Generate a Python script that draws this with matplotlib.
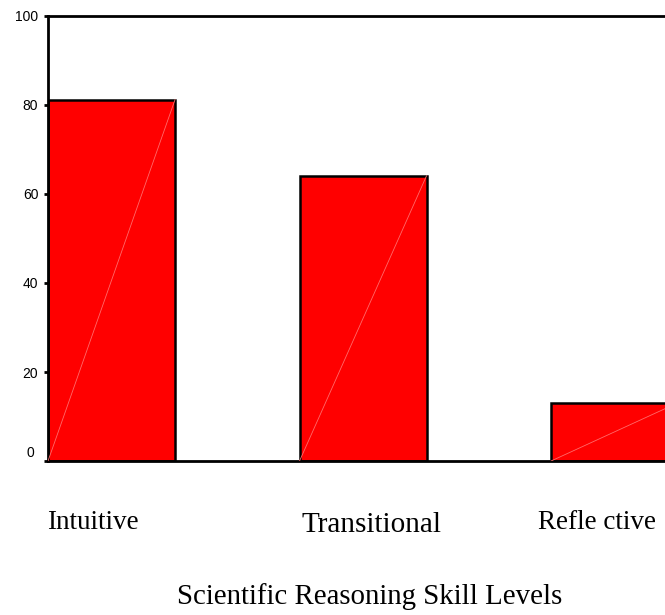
import matplotlib
matplotlib.use("Agg")
import matplotlib.pyplot as plt

categories = ["Intuitive", "Transitional", "Refle ctive"]
values = [81.2, 64.1, 13.1]
yticks = [0, 20, 40, 60, 80, 100]

xpos = [0, 1, 2]
bar_w = 0.505

fig = plt.figure(figsize=(6.65, 6.15), dpi=100)
ax = fig.add_axes([0.0722, 0.2504, 1 - 0.0722, 0.974 - 0.2504])

bars = ax.bar(xpos, values, width=bar_w, align="edge", color="#ff0000",
              edgecolor="black", linewidth=1.8, zorder=2)

# faint diagonal inside each bar, corner to corner
for x, v in zip(xpos, values):
    ax.plot([x, x + bar_w], [0, v], color="#ff6a6a", lw=0.6, zorder=3)

ax.set_xlim(0, 2.453)
ax.set_ylim(0, 100)
ax.set_xticks([])
ax.set_yticks(yticks)
ax.set_yticklabels([""] + [str(t) for t in yticks[1:]],
                   family="Liberation Sans", fontsize=10)
ax.tick_params(axis="y", direction="out", length=3, width=2, pad=4)

# the zero label sits a little above its tick
ax.annotate("0", xy=(0, 0), xycoords=("axes fraction", "data"),
            xytext=(-10, 6), textcoords="offset points",
            ha="right", va="center", family="Liberation Sans", fontsize=10)

for side in ["left", "top", "bottom"]:
    ax.spines[side].set_linewidth(2)
ax.spines["right"].set_visible(False)

label_x = [47 / 665, 301 / 665, 538 / 665]
label_y = [0.1398, 0.135, 0.1398]
label_size = [19.5, 21, 19.5]
for lab, lx, ly, fs in zip(categories, label_x, label_y, label_size):
    fig.text(lx, ly, lab, ha="left", va="baseline",
             family="Liberation Serif", fontsize=fs)

fig.text(370 / 665, 0.0179, "Scientific Reasoning Skill Levels",
         ha="center", va="baseline", family="Liberation Serif", fontsize=20.8)

fig.savefig("out.png", dpi=100)
